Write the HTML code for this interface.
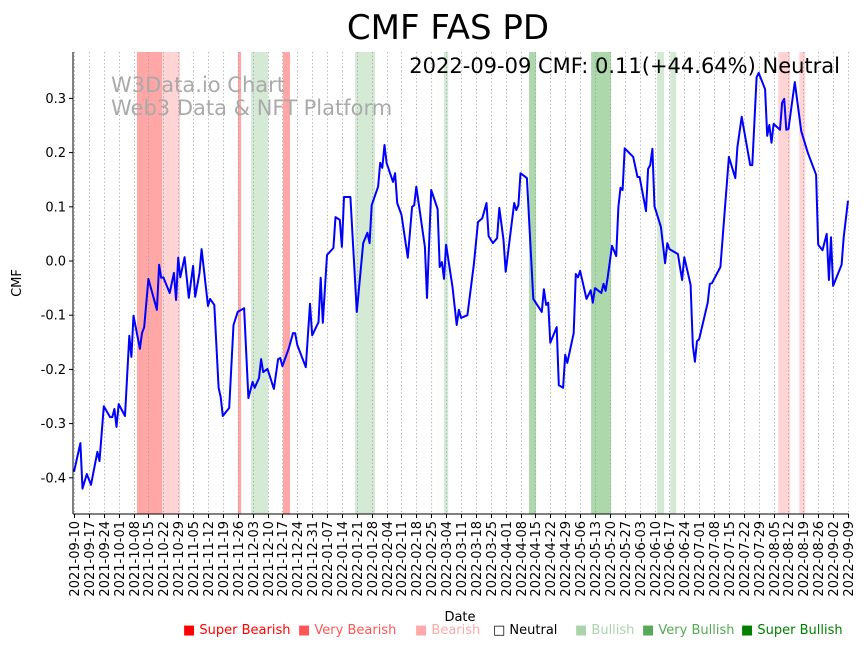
<!DOCTYPE html>
<html><head><meta charset="utf-8"><style>
html,body{margin:0;padding:0;background:#fff;}
svg{display:block;font-family:"DejaVu Sans","Liberation Sans",sans-serif;}
</style></head><body>
<svg id="chart" width="864" height="646" viewBox="0 0 864 646" xmlns="http://www.w3.org/2000/svg">
<text x="448" y="39" font-size="34" text-anchor="middle">CMF FAS PD</text>
<g id="bands"></g><g id="grid"></g>
<text x="111" y="92" font-size="21" fill="#aaaaaa">W3Data.io Chart</text>
<text x="111" y="115" font-size="21" fill="#aaaaaa">Web3 Data &amp; NFT Platform</text>
<g id="series"></g><g id="axes"></g>
<text x="840" y="73" font-size="21" text-anchor="end">2022-09-09 CMF: 0.11(+44.64%) Neutral</text>
<text transform="translate(21,283) rotate(-90)" font-size="13" text-anchor="middle">CMF</text>
<text x="460" y="621" font-size="13" text-anchor="middle">Date</text>
<g id="legend" font-size="13"></g>
</svg>
<script>
const startDate = "2021-09-10";
const days = [0,3,4,6,8,11,12,14,17,18,19,20,21,24,26,27,28,31,32,33,35,39,40,41,42,45,47,48,49,50,52,54,56,57,59,60,63,64,66,68,69,70,73,75,77,80,82,84,85,87,88,89,91,94,96,97,98,101,103,104,105,109,111,112,115,116,117,119,122,123,125,126,127,130,133,136,138,139,140,143,144,145,146,147,150,151,152,154,157,159,160,161,165,166,168,171,172,173,174,175,178,180,181,182,185,188,190,192,194,195,197,199,200,202,203,207,208,209,210,213,216,220,221,222,223,224,227,228,230,231,232,235,236,237,238,241,243,244,245,248,249,250,251,253,255,256,257,258,259,263,265,266,269,270,271,272,273,276,278,279,280,284,286,287,290,291,292,293,294,298,299,300,304,308,311,312,314,318,319,321,322,325,326,327,328,329,332,333,334,335,336,339,342,345,349,350,352,354,355,356,357,361,362,364];
const cmf = [-0.389,-0.336,-0.42,-0.393,-0.413,-0.352,-0.369,-0.268,-0.288,-0.288,-0.273,-0.306,-0.264,-0.286,-0.138,-0.177,-0.101,-0.162,-0.133,-0.122,-0.033,-0.090,-0.007,-0.031,-0.030,-0.059,-0.022,-0.072,0.006,-0.030,0.007,-0.068,-0.009,-0.066,-0.022,0.022,-0.083,-0.070,-0.081,-0.234,-0.251,-0.286,-0.271,-0.118,-0.094,-0.087,-0.253,-0.223,-0.234,-0.216,-0.181,-0.205,-0.199,-0.236,-0.181,-0.179,-0.194,-0.161,-0.133,-0.133,-0.155,-0.196,-0.079,-0.137,-0.113,-0.031,-0.114,0.011,0.024,0.081,0.076,0.026,0.118,0.118,-0.094,0.033,0.052,0.033,0.103,0.137,0.181,0.172,0.214,0.181,0.146,0.162,0.107,0.085,0.006,0.100,0.103,0.137,0.026,-0.068,0.131,0.096,-0.011,-0.002,-0.033,0.030,-0.048,-0.118,-0.090,-0.105,-0.100,-0.007,0.072,0.079,0.107,0.046,0.033,0.042,0.098,0.039,-0.020,0.107,0.094,0.103,0.162,0.153,-0.070,-0.094,-0.052,-0.081,-0.077,-0.151,-0.122,-0.229,-0.234,-0.173,-0.188,-0.133,-0.024,-0.030,-0.018,-0.070,-0.054,-0.077,-0.050,-0.059,-0.042,-0.055,-0.030,0.028,0.009,0.100,0.135,0.131,0.208,0.192,0.155,0.155,0.092,0.170,0.177,0.207,0.101,0.063,-0.004,0.033,0.022,0.013,-0.035,0.007,-0.044,-0.155,-0.186,-0.148,-0.144,-0.077,-0.042,-0.041,-0.011,0.192,0.153,0.210,0.266,0.177,0.177,0.339,0.347,0.317,0.231,0.251,0.218,0.253,0.242,0.292,0.299,0.242,0.244,0.330,0.240,0.201,0.159,0.030,0.020,0.050,-0.035,0.044,-0.046,-0.007,0.044,0.111];
const bandStart = [29.6,41.4,77.1,83.3,98.3,132.2,174,214,243.2,274.2,280.4,331.2,341.1];
const bandEnd   = [41.4,49.9,78.6,91.3,101.6,141.6,176,217.3,252.6,277.5,283.2,336.8,343.9];
const bandType  = ["very-bearish","bearish","very-bearish","bullish","very-bearish","bullish","bullish","very-bullish","very-bullish","bullish","bullish","bearish","bearish"];
const yTicks = [-0.4,-0.3,-0.2,-0.1,0.0,0.1,0.2,0.3];
const legendLabels = ["Super Bearish","Very Bearish","Bearish","Neutral","Bullish","Very Bullish","Super Bullish"];
const legendColors = ["#ff0000","#ff5555","#ffaaaa","#000000","#aad5aa","#55aa55","#008000"];
const legendX = [183,298,415,493,575,642,741];

const NS="http://www.w3.org/2000/svg";
const L=73,R=849,T=52,B=514;
const xs=d=>74+d*(774/364);
const ys=v=>261-v*542;
const bandFill={"very-bearish":"#ffa6a6","bearish":"#ffd4d4","bullish":"#d4ead4","very-bullish":"#acd8ac"};
function mk(tag,attrs,parent){const e=document.createElementNS(NS,tag);for(const k in attrs)e.setAttribute(k,attrs[k]);parent.appendChild(e);return e;}
const gB=document.getElementById('bands'),gG=document.getElementById('grid'),gS=document.getElementById('series'),gA=document.getElementById('axes'),gL=document.getElementById('legend');
bandStart.forEach((s,i)=>{
  const r=mk('rect',{x:xs(s),y:T,width:xs(bandEnd[i])-xs(s),height:B-T,fill:bandFill[bandType[i]]},gB);
  
  
});
const t0=new Date(startDate+"T00:00:00Z");
for(let d=0;d<=364;d+=7){
  const x=Math.round(xs(d))+0.5;
  const g=mk('line',{x1:x,x2:x,y1:T,y2:B,stroke:'#999',"stroke-width":0.8,"stroke-dasharray":"1.2,2.5"},gG);
  
  
  mk('line',{x1:x,x2:x,y1:B,y2:B+4,stroke:'#000',"stroke-width":1},gA);
  const dt=new Date(t0.getTime()+d*86400000).toISOString().slice(0,10);
  const tx=mk('text',{transform:`translate(${x+4.5},${B+7}) rotate(-90)`,"font-size":13,"text-anchor":"end"},gA);
  tx.textContent=dt;
  
  
}
yTicks.forEach(v=>{
  const y=ys(v);
  mk('line',{x1:L-4,x2:L,y1:y,y2:y,stroke:'#000',"stroke-width":1},gA);
  const tx=mk('text',{x:L-7,y:y+4.5,"font-size":13,"text-anchor":"end"},gA);
  tx.textContent=v.toFixed(1);
  
  
});
const la=mk('line',{x1:L,x2:L,y1:T,y2:B,stroke:'#000',"stroke-width":1},gA);


const lb=mk('line',{x1:L,x2:R,y1:B,y2:B,stroke:'#000',"stroke-width":1},gA);


const pts=days.map((d,i)=>xs(d).toFixed(1)+','+ys(cmf[i]).toFixed(1)).join(' ');
const pl=mk('polyline',{points:pts,fill:'none',stroke:'#0000ff',"stroke-width":2,"stroke-linejoin":"round"},gS);


legendLabels.forEach((lab,i)=>{
  const tx=mk('text',{x:legendX[i],y:634,fill:legendColors[i]},gL);
  tx.textContent=(lab==="Neutral"?"□ ":"■ ")+lab;
  
  
});
</script>
</body></html>
